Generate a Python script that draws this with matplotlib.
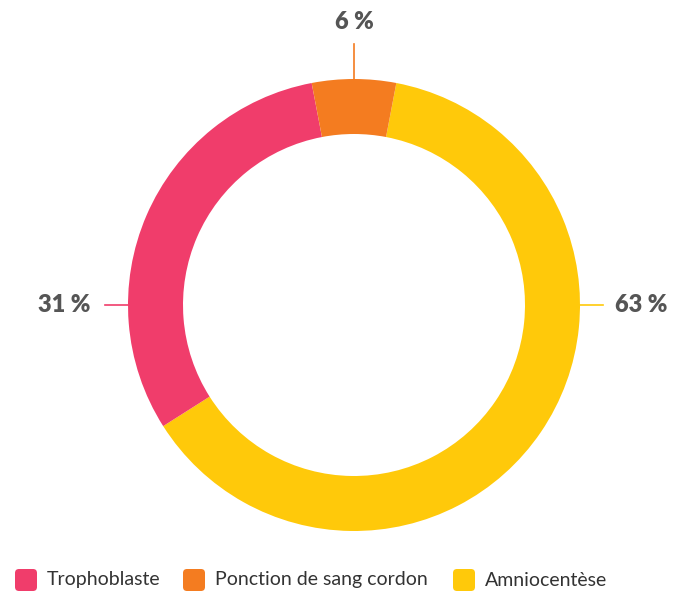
import matplotlib
matplotlib.use('Agg')
import matplotlib.pyplot as plt
from matplotlib.patches import FancyBboxPatch

# données
categories = ['Amniocentèse', 'Trophoblaste', 'Ponction de sang cordon']
valeurs = [63, 31, 6]
couleurs = ['#FFC90A', '#F03D6B', '#F47C20']
etiquettes = ['63 %', '31 %', '6 %']
legende_ordre = ['Trophoblaste', 'Ponction de sang cordon', 'Amniocentèse']

W, H = 674, 597
fig = plt.figure(figsize=(W / 100, H / 100), dpi=100)
ax = fig.add_axes([0, 0, 1, 1])

cx, cy = 354, H - 305
r_ext = 226
epaisseur = 55

# la petite part est centrée en haut
debut = 90 - valeurs[2] / sum(valeurs) * 180
ax.pie(valeurs, colors=couleurs, startangle=debut, counterclock=False,
       radius=r_ext, center=(cx, cy), frame=True,
       wedgeprops=dict(width=epaisseur, linewidth=0))
ax.set_xlim(0, W)
ax.set_ylim(0, H)
ax.set_aspect('equal')
ax.axis('off')

# étiquettes avec traits de rappel
gris = '#555555'
style_etiq = dict(fontsize=17, fontweight='heavy', color=gris, family='Lato')
# droite (63 %)
ax.plot([cx + r_ext, cx + r_ext + 23], [cy, cy], color=couleurs[0], lw=1.2)
ax.text(cx + r_ext + 35, cy, etiquettes[0], ha='left', va='center', **style_etiq)
# gauche (31 %)
ax.plot([cx - r_ext, cx - r_ext - 23], [cy, cy], color=couleurs[1], lw=1.2)
ax.text(cx - r_ext - 38, cy, etiquettes[1], ha='right', va='center', **style_etiq)
# haut (6 %)
ax.plot([cx, cx], [cy + r_ext, cy + r_ext + 35], color=couleurs[2], lw=1.2)
ax.text(cx, H - 22, etiquettes[2], ha='center', va='center', **style_etiq)

# légende
pos_legende = [15, 183, 453]
y_leg = H - 580
for nom, x0 in zip(legende_ordre, pos_legende):
    c = couleurs[categories.index(nom)]
    ax.add_patch(FancyBboxPatch((x0 + 4, y_leg - 7), 14, 14,
                                boxstyle='round,pad=4', fc=c, ec='none'))
    ax.text(x0 + 32, y_leg, nom, ha='left', va='center',
            fontsize=14, color='#333333', family='Lato')

fig.savefig('out.png', dpi=100)
